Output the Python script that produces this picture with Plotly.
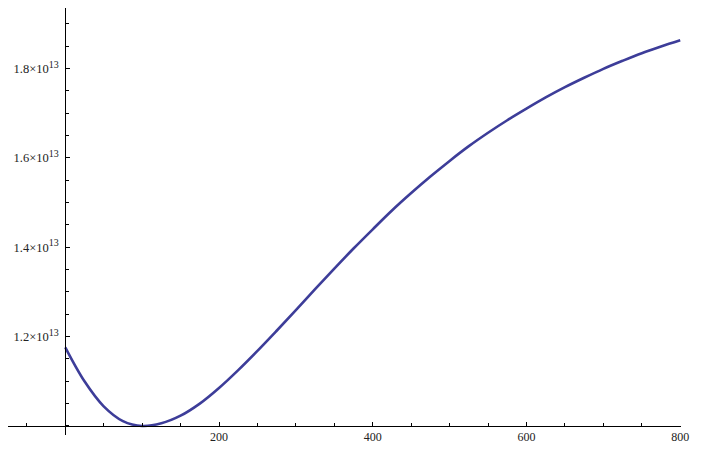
"""Mathematica-style line plot: curve dipping to a minimum near x=100 then rising."""

import plotly.graph_objects as go

# Curve readings (y in units of 1e13)
x_vals = [0, 25, 50, 75, 100, 125, 150, 175, 200, 225, 250, 275, 300, 325,
          350, 375, 400, 425, 450, 475, 500, 525, 550, 575, 600, 625, 650,
          675, 700, 725, 750, 775, 800]
y_e13 = [1.176, 1.100, 1.044, 1.011, 1.000, 1.006, 1.023, 1.050, 1.085,
         1.125, 1.168, 1.213, 1.259, 1.306, 1.352, 1.397, 1.440, 1.482,
         1.521, 1.558, 1.593, 1.626, 1.656, 1.684, 1.710, 1.735, 1.758,
         1.779, 1.799, 1.817, 1.834, 1.849, 1.863]

x_tick_vals = [200, 400, 600, 800]
y_tick_e13 = [1.2, 1.4, 1.6, 1.8]
y_tick_text = [
    f"{v}\u00d710<sup><span style='font-size:10px'>13</span></sup>"
    for v in ["1.2", "1.4", "1.6", "1.8"]
]

SCALE = 1e13
LINE_COLOR = "rgb(61,61,153)"
SERIF = "Liberation Serif, Times New Roman, serif"

# the page body adds an 8px offset, so the figure is 8px smaller each way
fig = go.Figure()
fig.add_trace(go.Scatter(
    x=x_vals,
    y=[v * SCALE for v in y_e13],
    mode="lines",
    line=dict(color=LINE_COLOR, width=2.6, shape="spline", smoothing=1.0,
              simplify=False),
    hoverinfo="skip",
    cliponaxis=False,
))

fig.update_layout(
    width=709,
    height=465,
    margin=dict(l=0, r=36, t=0, b=38),
    plot_bgcolor="white",
    paper_bgcolor="white",
    showlegend=False,
)

fig.update_xaxes(
    range=[-74.5, 801],
    anchor="free",
    position=0.0211,
    automargin=False,
    showgrid=False,
    zeroline=False,
    showline=True,
    linecolor="black",
    linewidth=1,
    tickmode="array",
    tickvals=x_tick_vals,
    ticktext=[str(v) for v in x_tick_vals],
    ticks="inside",
    ticklen=4,
    tickcolor="black",
    tickfont=dict(family=SERIF, size=12, color="#222"),
    minor=dict(tick0=0, dtick=50, ticks="inside", ticklen=2.5, tickcolor="black"),
)

fig.update_yaxes(
    range=[0.9798 * SCALE, 1.9351 * SCALE],
    anchor="free",
    position=0.0851,
    automargin=False,
    showgrid=False,
    zeroline=False,
    showline=True,
    linecolor="black",
    linewidth=1,
    tickmode="array",
    tickvals=[v * SCALE for v in y_tick_e13],
    ticktext=y_tick_text,
    ticks="inside",
    ticklen=4,
    tickcolor="black",
    ticklabelstandoff=4,
    tickfont=dict(family=SERIF, size=12.5, color="#222"),
    minor=dict(tick0=0, dtick=0.05 * SCALE, ticks="inside", ticklen=2.5, tickcolor="black"),
)

fig.write_html("out.html")
